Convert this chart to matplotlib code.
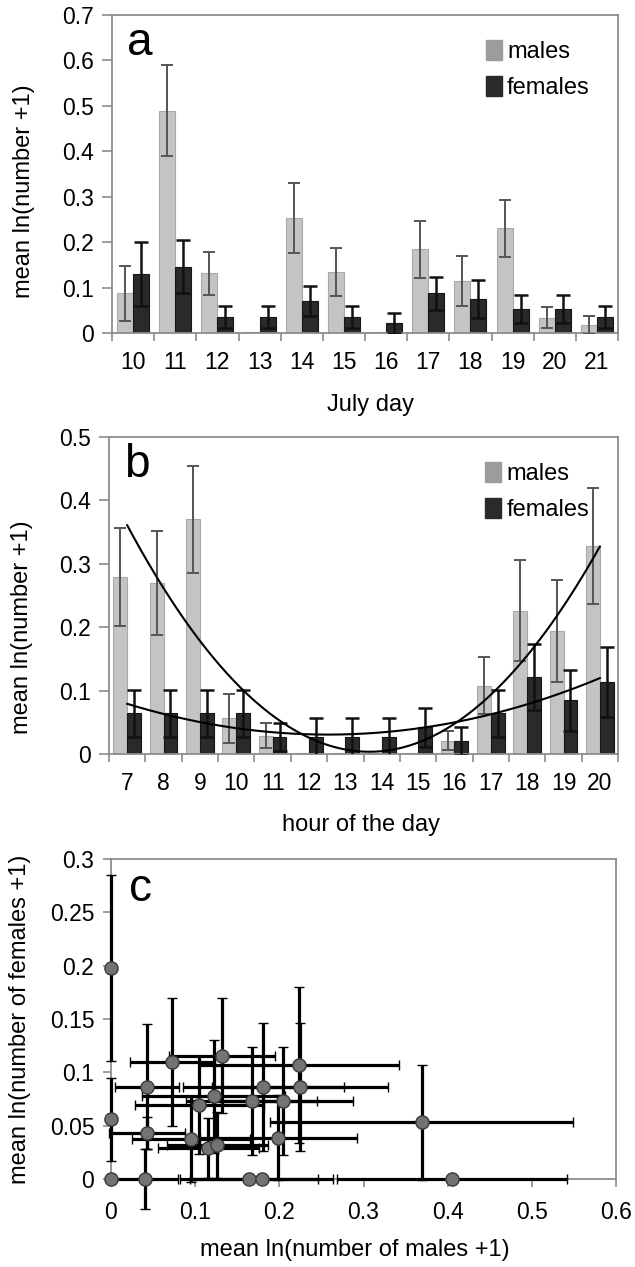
import numpy as np
import matplotlib
matplotlib.use("Agg")
import matplotlib.pyplot as plt
from matplotlib.patches import Patch

plt.rcParams["font.family"] = ["Liberation Sans", "DejaVu Sans"]

# panel a: July day
days = ["10", "11", "12", "13", "14", "15", "16", "17", "18", "19", "20", "21"]
day_m = [0.087, 0.489, 0.131, 0.002, 0.254, 0.135, 0.002, 0.184, 0.114, 0.230, 0.034, 0.017]
day_m_err = [0.060, 0.100, 0.047, 0.0, 0.077, 0.053, 0.0, 0.063, 0.055, 0.063, 0.024, 0.020]
day_f = [0.130, 0.146, 0.035, 0.035, 0.071, 0.035, 0.022, 0.087, 0.075, 0.053, 0.053, 0.035]
day_f_err = [0.070, 0.059, 0.025, 0.025, 0.033, 0.025, 0.022, 0.037, 0.041, 0.030, 0.030, 0.025]

# panel b: hour of the day
hours = ["7", "8", "9", "10", "11", "12", "13", "14", "15", "16", "17", "18", "19", "20"]
hour_m = [0.279, 0.270, 0.370, 0.056, 0.029, 0.001, 0.001, 0.001, 0.001, 0.021, 0.1075, 0.226, 0.194, 0.328]
hour_m_err = [0.077, 0.082, 0.085, 0.039, 0.020, 0.0, 0.0, 0.0, 0.0, 0.015, 0.045, 0.080, 0.080, 0.092]
hour_f = [0.064, 0.064, 0.064, 0.064, 0.027, 0.027, 0.027, 0.027, 0.042, 0.021, 0.064, 0.122, 0.085, 0.114]
hour_f_err = [0.037, 0.037, 0.037, 0.037, 0.022, 0.030, 0.030, 0.030, 0.031, 0.022, 0.037, 0.052, 0.048, 0.055]

# panel c: males vs females per sample
c_x = [0.0, 0.0, 0.0, 0.043, 0.043, 0.040, 0.073, 0.095, 0.105, 0.1156, 0.122, 0.1263,
       0.1315, 0.164, 0.167, 0.181, 0.179, 0.199, 0.204, 0.2234, 0.2245, 0.369, 0.405]
c_y = [0.198, 0.056, 0.0, 0.0866, 0.0434, 0.0, 0.1094, 0.0372, 0.069, 0.0288, 0.0775, 0.0319,
       0.1156, 0.0, 0.073, 0.0866, 0.0, 0.0387, 0.073, 0.107, 0.0866, 0.053, 0.0]
c_xerr = [0.0, 0.0, 0.0, 0.038, 0.045, 0.040, 0.050, 0.070, 0.077, 0.060, 0.085, 0.060,
          0.063, 0.082, 0.078, 0.096, 0.085, 0.093, 0.084, 0.119, 0.105, 0.180, 0.137]
c_yerr = [0.087, 0.039, 0.0, 0.059, 0.015, 0.028, 0.060, 0.040, 0.046, 0.028, 0.053, 0.031,
          0.054, 0.0, 0.051, 0.060, 0.0, 0.040, 0.051, 0.073, 0.060, 0.054, 0.0]

M_COL, M_EDGE, M_ERR = "#c4c4c4", "#a9a9a9", "#555555"
F_COL, F_EDGE, F_ERR = "#2a2a2a", "#161616", "#111111"
AX_COL = "#8c8c8c"
W = 0.38
TICK_FS, LAB_FS = 16.5, 17


def style(ax):
    for s in ax.spines.values():
        s.set_color(AX_COL)
        s.set_linewidth(1.3)
    ax.tick_params(which="both", colors=AX_COL, labelcolor="black",
                   labelsize=TICK_FS, direction="out", width=1.2)


def place_labels(ax, xl, yl):
    ax.xaxis.set_label_coords(*xl)
    ax.yaxis.set_label_coords(*yl)
    ax.xaxis.label.set_va("center")
    ax.yaxis.label.set_va("center")


def bars(ax, labels, m, m_err, f, f_err, ymax, letter, xlabel, leg_y):
    x = np.arange(len(labels))
    ax.bar(x - W / 2, m, W, color=M_COL, edgecolor=M_EDGE, linewidth=0.8, zorder=2)
    ax.bar(x + W / 2, f, W, color=F_COL, edgecolor=F_EDGE, linewidth=0.8, zorder=2)
    me = np.array(m_err)
    ax.errorbar(x[me > 0] - W / 2, np.array(m)[me > 0], yerr=me[me > 0], fmt="none",
                ecolor=M_ERR, elinewidth=1.4, capsize=4.5, capthick=1.4, zorder=3)
    ax.errorbar(x + W / 2, f, yerr=f_err, fmt="none", ecolor=F_ERR,
                elinewidth=1.8, capsize=4.8, capthick=1.8, zorder=3)
    ax.set_xlim(-0.5, len(labels) - 0.5)
    ax.set_ylim(0, ymax)
    ax.set_yticks(np.arange(0, ymax + 1e-9, 0.1))
    ax.set_yticklabels(["0"] + [f"{v:.1f}" for v in np.arange(0.1, ymax + 1e-9, 0.1)])
    ax.set_xticks(x)
    ax.set_xticklabels(labels)
    ax.set_xticks(np.arange(-0.5, len(labels)), minor=True)
    style(ax)
    ax.tick_params(axis="x", which="major", length=0, pad=13)
    ax.tick_params(axis="x", which="minor", length=6)
    ax.tick_params(axis="y", length=7, pad=6)
    ax.set_xlabel(xlabel, fontsize=LAB_FS)
    ax.set_ylabel("mean ln(number +1)", fontsize=LAB_FS)
    ax.text(0.03, 0.875, letter, transform=ax.transAxes, fontsize=33)
    h = [Patch(facecolor="#9c9c9c", edgecolor="#9c9c9c", label="males"),
         Patch(facecolor=F_COL, edgecolor=F_COL, label="females")]
    ax.legend(handles=h, loc="upper left", bbox_to_anchor=(0.72, leg_y), frameon=False,
              fontsize=LAB_FS, handlelength=0.7, handleheight=0.9, handletextpad=0.2,
              labelspacing=0.55, borderaxespad=0)
    return x


fig = plt.figure(figsize=(6.35, 12.67), dpi=100, facecolor="white")

ax1 = fig.add_axes([0.1764, 0.7372, 0.7969, 0.2510])
bars(ax1, days, day_m, day_m_err, day_f, day_f_err, 0.7, "a", "July day", 0.95)
place_labels(ax1, (0.51, -0.226), (-0.174, 0.447))

ax2 = fig.add_axes([0.1717, 0.4049, 0.8016, 0.2502])
xh = bars(ax2, hours, hour_m, hour_m_err, hour_f, hour_f_err, 0.5, "b", "hour of the day", 0.95)
place_labels(ax2, (0.495, -0.224), (-0.171, 0.40))
# second-order polynomial trendlines, as in the original spreadsheet
xs = np.linspace(xh[0], xh[-1], 200)
for series in (hour_m, hour_f):
    coef = np.polyfit(xh, series, 2)
    ax2.plot(xs, np.polyval(coef, xs), color="black", lw=1.5, zorder=4)

ax3 = fig.add_axes([0.1748, 0.0695, 0.7953, 0.2526])
ax3.errorbar(c_x, c_y, xerr=c_xerr, yerr=c_yerr, fmt="o", ms=9.5, mfc="#737373",
             mec="#3a3a3a", mew=1.0, ecolor="black", elinewidth=2.3, capsize=3.8,
             capthick=2.3, zorder=3, clip_on=False)
ax3.set_xlim(0, 0.6)
ax3.set_ylim(0, 0.3)
ax3.set_xticks(np.arange(0, 0.61, 0.1))
ax3.set_xticklabels(["0"] + [f"{v:.1f}" for v in np.arange(0.1, 0.61, 0.1)])
ax3.set_yticks(np.arange(0, 0.301, 0.05))
ax3.set_yticklabels(["0", "0.05", "0.1", "0.15", "0.2", "0.25", "0.3"])
style(ax3)
ax3.tick_params(axis="x", length=6, pad=10)
ax3.tick_params(axis="y", length=6, pad=6)
ax3.set_xlabel("mean ln(number of males +1)", fontsize=LAB_FS)
ax3.set_ylabel("mean ln(number of females +1)", fontsize=LAB_FS)
place_labels(ax3, (0.483, -0.222), (-0.18, 0.5))
ax3.text(0.035, 0.87, "c", transform=ax3.transAxes, fontsize=33)

fig.savefig("out.png", dpi=100, facecolor="white")
